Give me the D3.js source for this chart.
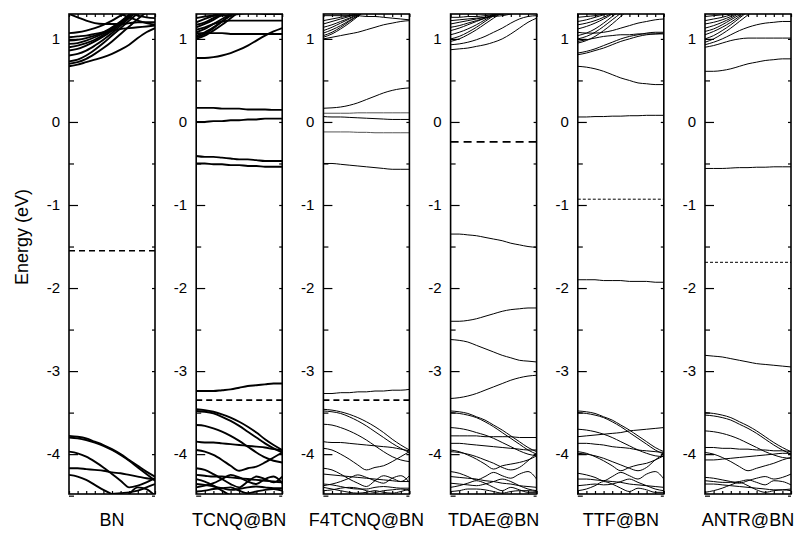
<!DOCTYPE html>
<html><head><meta charset="utf-8">
<script src="https://cdn.jsdelivr.net/npm/d3@7"></script>
<style>body{margin:0;background:#fff}svg{display:block}text{font-family:"Liberation Sans",Arial,sans-serif}</style>
</head><body><svg id="c" width="807" height="533"></svg>
<script>
const panelNames = ["BN","TCNQ@BN","F4TCNQ@BN","TDAE@BN","TTF@BN","ANTR@BN"];
const fermiLevels = [-1.55,-3.35,-3.35,-0.24,-0.93,-1.69];
const yMajorTicks = [-4,-3,-2,-1,0,1];
const yMinorTicks = [-4.5,-3.5,-2.5,-1.5,-0.5,0.5];
const kTicks = [0,1,2,3,4,5,6,7,8,9,10];

const bandsBN = [
 [0.67,0.69,0.72,0.75,0.78,0.82,0.87,0.93,1.01,1.08,1.13],
 [0.70,0.72,0.76,0.82,0.89,0.97,1.06,1.15,1.24,1.32,1.40],
 [0.73,0.75,0.80,0.87,0.95,1.04,1.13,1.22,1.31,1.40,1.48],
 [0.80,0.82,0.86,0.92,0.99,1.07,1.16,1.25,1.34,1.42,1.50],
 [0.86,0.88,0.92,0.97,1.03,1.10,1.18,1.27,1.36,1.45,1.50],
 [0.90,0.92,0.95,0.99,1.05,1.12,1.20,1.29,1.38,1.46,1.50],
 [0.94,0.95,0.98,1.02,1.07,1.13,1.20,1.28,1.36,1.44,1.50],
 [0.98,0.99,1.01,1.04,1.08,1.14,1.21,1.29,1.37,1.45,1.50],
 [1.02,1.03,1.04,1.06,1.08,1.10,1.12,1.13,1.14,1.15,1.16],
 [1.07,1.08,1.10,1.13,1.17,1.22,1.28,1.33,1.38,1.42,1.45],
 [1.30,1.26,1.22,1.19,1.18,1.18,1.18,1.19,1.20,1.20,1.20],
 [1.50,1.50,1.50,1.48,1.42,1.36,1.30,1.26,1.22,1.19,1.17],
 [1.50,1.50,1.50,1.50,1.50,1.45,1.38,1.32,1.28,1.26,1.25],
 [-3.78,-3.79,-3.81,-3.85,-3.89,-3.94,-4.00,-4.07,-4.14,-4.21,-4.27],
 [-3.80,-3.81,-3.83,-3.86,-3.90,-3.95,-4.01,-4.08,-4.16,-4.24,-4.32],
 [-3.97,-3.99,-4.03,-4.09,-4.16,-4.24,-4.32,-4.40,-4.38,-4.34,-4.29],
 [-4.17,-4.17,-4.18,-4.19,-4.20,-4.22,-4.23,-4.25,-4.27,-4.29,-4.30],
 [-4.25,-4.27,-4.31,-4.37,-4.43,-4.48,-4.52,-4.56,-4.60,-4.64,-4.68],
 [-4.70,-4.70,-4.66,-4.60,-4.52,-4.48,-4.47,-4.46,-4.44,-4.40,-4.36],
 [-4.70,-4.70,-4.70,-4.70,-4.70,-4.70,-4.60,-4.48,-4.40,-4.42,-4.50]
];
const bandsTCNQ = [
 [0.77,0.77,0.78,0.80,0.83,0.87,0.92,0.98,1.04,1.09,1.13],
 [1.07,1.07,1.07,1.07,1.06,1.06,1.06,1.06,1.06,1.06,1.06],
 [1.00,1.04,1.10,1.17,1.25,1.33,1.41,1.48,1.50,1.50,1.50],
 [1.02,1.06,1.13,1.21,1.29,1.37,1.45,1.50,1.50,1.50,1.50],
 [1.04,1.08,1.14,1.21,1.28,1.35,1.42,1.50,1.50,1.50,1.50],
 [1.08,1.12,1.18,1.24,1.30,1.36,1.42,1.50,1.50,1.50,1.50],
 [1.11,1.14,1.18,1.21,1.22,1.22,1.22,1.22,1.22,1.22,1.22],
 [1.14,1.18,1.23,1.29,1.35,1.41,1.47,1.50,1.50,1.50,1.50],
 [1.17,1.20,1.25,1.30,1.35,1.40,1.45,1.50,1.50,1.50,1.50],
 [1.20,1.24,1.28,1.32,1.36,1.40,1.45,1.50,1.50,1.50,1.50],
 [1.25,1.27,1.28,1.28,1.29,1.30,1.31,1.31,1.30,1.30,1.30],
 [0.17,0.17,0.17,0.16,0.16,0.16,0.15,0.15,0.15,0.145,0.145],
 [0.00,0.00,0.01,0.01,0.02,0.02,0.03,0.03,0.04,0.04,0.04],
 [-0.41,-0.42,-0.42,-0.43,-0.44,-0.45,-0.45,-0.46,-0.47,-0.47,-0.47],
 [-0.50,-0.50,-0.51,-0.51,-0.52,-0.52,-0.53,-0.53,-0.54,-0.54,-0.54],
 [-3.24,-3.24,-3.24,-3.23,-3.22,-3.20,-3.18,-3.17,-3.16,-3.15,-3.15],
 [-3.46,-3.47,-3.49,-3.52,-3.56,-3.61,-3.67,-3.74,-3.82,-3.89,-3.95],
 [-3.48,-3.49,-3.51,-3.55,-3.60,-3.66,-3.73,-3.80,-3.87,-3.93,-3.98],
 [-3.65,-3.66,-3.69,-3.73,-3.78,-3.84,-3.91,-3.98,-4.04,-4.08,-4.10],
 [-3.85,-3.86,-3.86,-3.87,-3.88,-3.89,-3.90,-3.91,-3.92,-3.94,-3.95],
 [-3.95,-3.97,-4.01,-4.07,-4.14,-4.20,-4.17,-4.15,-4.10,-4.04,-3.98],
 [-4.17,-4.19,-4.24,-4.30,-4.36,-4.40,-4.33,-4.27,-4.30,-4.34,-4.27],
 [-4.25,-4.26,-4.27,-4.27,-4.28,-4.29,-4.30,-4.31,-4.32,-4.33,-4.34],
 [-4.40,-4.38,-4.35,-4.30,-4.25,-4.28,-4.33,-4.36,-4.30,-4.27,-4.35],
 [-4.36,-4.37,-4.39,-4.41,-4.43,-4.42,-4.40,-4.39,-4.40,-4.41,-4.41],
 [-4.45,-4.44,-4.42,-4.41,-4.40,-4.44,-4.47,-4.45,-4.43,-4.42,-4.44],
 [-4.30,-4.33,-4.38,-4.44,-4.50,-4.56,-4.60,-4.60,-4.60,-4.60,-4.60]
];
const bandsF4TCNQ = [
 [1.00,1.02,1.04,1.06,1.08,1.11,1.14,1.17,1.19,1.21,1.22],
 [1.28,1.28,1.28,1.28,1.28,1.27,1.27,1.26,1.25,1.24,1.23],
 [1.02,1.06,1.12,1.19,1.27,1.35,1.43,1.50,1.50,1.50,1.50],
 [1.04,1.08,1.14,1.21,1.28,1.36,1.44,1.50,1.50,1.50,1.50],
 [1.07,1.11,1.16,1.22,1.28,1.34,1.40,1.48,1.50,1.50,1.50],
 [1.10,1.14,1.19,1.24,1.29,1.34,1.40,1.46,1.50,1.50,1.50],
 [1.14,1.17,1.21,1.25,1.30,1.35,1.40,1.45,1.50,1.50,1.50],
 [1.18,1.21,1.24,1.27,1.31,1.35,1.39,1.44,1.50,1.50,1.50],
 [1.22,1.24,1.26,1.28,1.31,1.34,1.38,1.42,1.46,1.50,1.50],
 [0.165,0.17,0.18,0.20,0.23,0.27,0.31,0.35,0.38,0.40,0.41],
 [0.065,0.06,0.06,0.055,0.05,0.045,0.04,0.035,0.03,0.03,0.03],
 [-0.50,-0.50,-0.51,-0.52,-0.53,-0.54,-0.55,-0.56,-0.57,-0.57,-0.57],
 [-3.27,-3.27,-3.26,-3.26,-3.25,-3.25,-3.24,-3.24,-3.23,-3.23,-3.22],
 [-3.46,-3.47,-3.49,-3.52,-3.56,-3.61,-3.67,-3.74,-3.82,-3.89,-3.95],
 [-3.48,-3.49,-3.51,-3.55,-3.60,-3.66,-3.73,-3.80,-3.87,-3.93,-3.98],
 [-3.64,-3.65,-3.68,-3.72,-3.77,-3.83,-3.90,-3.97,-4.03,-4.07,-4.09],
 [-3.85,-3.86,-3.86,-3.87,-3.88,-3.89,-3.90,-3.91,-3.92,-3.94,-3.96],
 [-3.93,-3.95,-4.00,-4.06,-4.13,-4.19,-4.16,-4.14,-4.09,-4.03,-3.97],
 [-4.17,-4.19,-4.24,-4.30,-4.35,-4.39,-4.32,-4.26,-4.29,-4.33,-4.26],
 [-4.24,-4.25,-4.26,-4.27,-4.28,-4.29,-4.30,-4.31,-4.32,-4.33,-4.33],
 [-4.38,-4.36,-4.33,-4.29,-4.25,-4.28,-4.32,-4.35,-4.29,-4.26,-4.34],
 [-4.36,-4.37,-4.39,-4.41,-4.42,-4.42,-4.40,-4.39,-4.40,-4.41,-4.41],
 [-4.44,-4.43,-4.41,-4.40,-4.41,-4.44,-4.46,-4.44,-4.43,-4.42,-4.44],
 [-4.40,-4.42,-4.44,-4.46,-4.47,-4.46,-4.44,-4.46,-4.47,-4.45,-4.42]
];
const bandsF4TCNQgray = [
 [0.105,0.105,0.105,0.105,0.11,0.11,0.11,0.11,0.11,0.11,0.11],
 [-0.12,-0.12,-0.12,-0.12,-0.125,-0.125,-0.13,-0.13,-0.13,-0.13,-0.13]
];
const bandsTDAE = [
 [0.87,0.88,0.89,0.91,0.93,0.96,1.00,1.06,1.13,1.20,1.25],
 [0.93,0.94,0.96,0.99,1.03,1.08,1.13,1.19,1.24,1.27,1.28],
 [0.97,1.00,1.05,1.11,1.18,1.25,1.32,1.40,1.50,1.50,1.50],
 [1.00,1.03,1.08,1.14,1.21,1.28,1.35,1.42,1.50,1.50,1.50],
 [1.05,1.08,1.12,1.17,1.23,1.29,1.35,1.42,1.50,1.50,1.50],
 [1.10,1.13,1.17,1.21,1.25,1.30,1.36,1.42,1.50,1.50,1.50],
 [1.14,1.16,1.19,1.22,1.25,1.28,1.31,1.35,1.40,1.45,1.50],
 [1.18,1.20,1.22,1.24,1.26,1.28,1.30,1.33,1.38,1.44,1.50],
 [1.22,1.23,1.24,1.25,1.26,1.27,1.28,1.30,1.33,1.37,1.42],
 [1.26,1.26,1.27,1.27,1.28,1.29,1.30,1.31,1.33,1.36,1.40],
 [-1.35,-1.35,-1.36,-1.37,-1.39,-1.41,-1.43,-1.46,-1.48,-1.50,-1.51],
 [-2.40,-2.40,-2.39,-2.37,-2.34,-2.31,-2.28,-2.26,-2.25,-2.24,-2.24],
 [-2.62,-2.63,-2.65,-2.69,-2.73,-2.77,-2.81,-2.84,-2.87,-2.88,-2.89],
 [-3.33,-3.32,-3.30,-3.27,-3.23,-3.19,-3.15,-3.11,-3.08,-3.06,-3.05],
 [-3.48,-3.49,-3.51,-3.55,-3.59,-3.65,-3.71,-3.78,-3.85,-3.92,-3.97],
 [-3.50,-3.51,-3.53,-3.56,-3.61,-3.67,-3.74,-3.81,-3.88,-3.95,-4.00],
 [-3.68,-3.69,-3.71,-3.74,-3.77,-3.81,-3.86,-3.91,-3.96,-4.00,-4.02],
 [-3.78,-3.78,-3.78,-3.78,-3.79,-3.79,-3.79,-3.79,-3.80,-3.80,-3.80],
 [-3.87,-3.87,-3.88,-3.89,-3.90,-3.91,-3.92,-3.93,-3.94,-3.95,-3.95],
 [-3.95,-3.97,-4.01,-4.06,-4.12,-4.18,-4.14,-4.12,-4.10,-4.07,-4.02],
 [-3.97,-3.98,-4.00,-4.03,-4.07,-4.11,-4.16,-4.19,-4.16,-4.08,-3.99],
 [-4.21,-4.23,-4.27,-4.31,-4.27,-4.22,-4.26,-4.29,-4.24,-4.21,-4.30],
 [-4.27,-4.28,-4.29,-4.30,-4.32,-4.33,-4.35,-4.36,-4.38,-4.39,-4.40],
 [-4.35,-4.36,-4.37,-4.38,-4.36,-4.33,-4.30,-4.33,-4.38,-4.42,-4.44],
 [-4.40,-4.38,-4.35,-4.32,-4.35,-4.40,-4.44,-4.40,-4.43,-4.46,-4.46],
 [-4.45,-4.44,-4.42,-4.42,-4.43,-4.45,-4.47,-4.45,-4.44,-4.44,-4.45]
];
const bandsTTF = [
 [0.06,0.06,0.065,0.065,0.07,0.07,0.075,0.075,0.08,0.08,0.08],
 [0.67,0.66,0.64,0.61,0.57,0.53,0.50,0.47,0.46,0.45,0.45],
 [0.81,0.83,0.86,0.89,0.93,0.97,1.00,1.03,1.05,1.06,1.07],
 [0.83,0.85,0.88,0.92,0.96,1.00,1.03,1.05,1.07,1.08,1.08],
 [0.97,0.99,1.01,1.03,1.04,1.05,1.05,1.06,1.06,1.06,1.06],
 [1.08,1.07,1.07,1.08,1.10,1.13,1.16,1.19,1.21,1.23,1.24],
 [0.95,0.98,1.03,1.10,1.18,1.27,1.36,1.45,1.50,1.50,1.50],
 [1.00,1.03,1.08,1.15,1.23,1.31,1.40,1.48,1.50,1.50,1.50],
 [1.04,1.07,1.12,1.19,1.27,1.35,1.43,1.50,1.50,1.50,1.50],
 [1.12,1.15,1.19,1.24,1.30,1.37,1.44,1.50,1.50,1.50,1.50],
 [1.17,1.19,1.22,1.26,1.31,1.37,1.43,1.50,1.50,1.50,1.50],
 [1.21,1.23,1.26,1.29,1.33,1.38,1.44,1.50,1.50,1.50,1.50],
 [1.26,1.27,1.28,1.30,1.33,1.37,1.42,1.48,1.50,1.50,1.50],
 [-1.90,-1.90,-1.90,-1.91,-1.91,-1.91,-1.92,-1.92,-1.92,-1.93,-1.93],
 [-3.48,-3.49,-3.51,-3.55,-3.59,-3.65,-3.71,-3.78,-3.85,-3.92,-3.97],
 [-3.50,-3.51,-3.53,-3.56,-3.61,-3.67,-3.74,-3.81,-3.88,-3.95,-4.00],
 [-3.70,-3.71,-3.73,-3.76,-3.80,-3.85,-3.90,-3.95,-3.99,-4.02,-4.03],
 [-3.79,-3.78,-3.77,-3.76,-3.75,-3.74,-3.72,-3.71,-3.70,-3.69,-3.68],
 [-3.87,-3.87,-3.88,-3.89,-3.91,-3.92,-3.93,-3.95,-3.96,-3.97,-3.98],
 [-3.97,-3.99,-4.03,-4.08,-4.14,-4.20,-4.16,-4.13,-4.11,-4.07,-4.02],
 [-3.99,-4.00,-4.02,-4.05,-4.09,-4.13,-4.17,-4.20,-4.16,-4.07,-4.00],
 [-4.23,-4.25,-4.28,-4.32,-4.27,-4.22,-4.26,-4.30,-4.24,-4.21,-4.30],
 [-4.30,-4.30,-4.31,-4.32,-4.33,-4.34,-4.36,-4.37,-4.38,-4.39,-4.40],
 [-4.38,-4.37,-4.36,-4.37,-4.36,-4.33,-4.30,-4.34,-4.38,-4.42,-4.44],
 [-4.44,-4.42,-4.38,-4.33,-4.36,-4.41,-4.45,-4.41,-4.43,-4.46,-4.46]
];
const bandsANTR = [
 [0.61,0.61,0.62,0.64,0.67,0.70,0.72,0.74,0.75,0.76,0.76],
 [0.90,0.92,0.95,0.98,1.00,1.01,1.01,1.01,1.01,1.01,1.01],
 [0.93,0.96,1.00,1.05,1.10,1.14,1.17,1.19,1.20,1.21,1.21],
 [0.96,1.00,1.06,1.13,1.21,1.29,1.37,1.45,1.50,1.50,1.50],
 [1.00,1.04,1.10,1.17,1.25,1.33,1.41,1.50,1.50,1.50,1.50],
 [1.05,1.09,1.14,1.20,1.27,1.34,1.42,1.50,1.50,1.50,1.50],
 [1.09,1.12,1.17,1.23,1.29,1.36,1.43,1.50,1.50,1.50,1.50],
 [1.13,1.16,1.20,1.25,1.31,1.37,1.44,1.50,1.50,1.50,1.50],
 [1.18,1.20,1.23,1.27,1.32,1.38,1.44,1.50,1.50,1.50,1.50],
 [1.22,1.24,1.26,1.29,1.33,1.38,1.44,1.50,1.50,1.50,1.50],
 [1.27,1.28,1.29,1.30,1.32,1.36,1.41,1.47,1.50,1.50,1.50],
 [-0.56,-0.56,-0.56,-0.555,-0.55,-0.55,-0.545,-0.545,-0.54,-0.54,-0.54],
 [-2.81,-2.82,-2.83,-2.85,-2.87,-2.89,-2.91,-2.92,-2.93,-2.94,-2.95],
 [-3.50,-3.51,-3.53,-3.56,-3.61,-3.66,-3.72,-3.79,-3.86,-3.92,-3.97],
 [-3.53,-3.54,-3.56,-3.59,-3.64,-3.69,-3.75,-3.82,-3.89,-3.95,-4.00],
 [-3.72,-3.73,-3.75,-3.78,-3.82,-3.87,-3.92,-3.97,-4.01,-4.04,-4.05],
 [-3.92,-3.92,-3.93,-3.93,-3.94,-3.94,-3.95,-3.95,-3.96,-3.96,-3.97],
 [-3.98,-4.00,-4.04,-4.09,-4.15,-4.20,-4.17,-4.14,-4.11,-4.07,-4.04],
 [-4.07,-4.07,-4.06,-4.05,-4.04,-4.03,-4.02,-4.01,-4.00,-3.99,-3.99],
 [-4.28,-4.29,-4.31,-4.33,-4.35,-4.32,-4.29,-4.27,-4.30,-4.28,-4.24],
 [-4.32,-4.33,-4.34,-4.34,-4.33,-4.31,-4.34,-4.37,-4.32,-4.33,-4.37],
 [-4.36,-4.36,-4.37,-4.38,-4.39,-4.40,-4.41,-4.42,-4.43,-4.43,-4.44],
 [-4.46,-4.44,-4.41,-4.37,-4.34,-4.38,-4.43,-4.46,-4.44,-4.43,-4.42]
];
const panelBands = [bandsBN,bandsTCNQ,bandsF4TCNQ,bandsTDAE,bandsTTF,bandsANTR];
const panelGray = [[],[],bandsF4TCNQgray,[],[],[]];

const svg = d3.select("#c");
const y = d3.scaleLinear().domain([-4.48,1.30]).range([494,14]);
const panelLeft = d3.scaleLinear().domain([0,5]).range([69,705]);
const panelW = 86;
const lineW = [1.9,1.9,1.0,1.0,1.0,1.0];
const dashSpec = [["6,4",1.5],["6,4",1.6],["6,4",1.6],["8,5",1.8],["3,2",1.0],["3,2",1.0]];

panelNames.forEach((name,i)=>{
  const x0 = panelLeft(i);
  const x = d3.scaleLinear().domain([0,10]).range([x0,x0+panelW]);
  const g = svg.append("g");
  const cid = "clip"+i;
  svg.append("clipPath").attr("id",cid).append("rect")
     .attr("x",x0).attr("y",y(1.30)).attr("width",panelW).attr("height",y(-4.48)-y(1.30));
  const line = d3.line().x((d,j)=>x(j)).y(d=>y(d)).curve(d3.curveMonotoneX);
  const lg = g.append("g").attr("clip-path",`url(#${cid})`);
  lg.selectAll("path.band").data(panelBands[i]).join("path").attr("class","band")
    .attr("d",line).attr("fill","none").attr("stroke","#000").attr("stroke-width",lineW[i]);
  lg.selectAll("path.gband").data(panelGray[i]).join("path").attr("class","gband")
    .attr("d",line).attr("fill","none").attr("stroke","#555").attr("stroke-width",lineW[i]);
  lg.append("line").attr("x1",x(0)).attr("x2",x(10)).attr("y1",y(fermiLevels[i])).attr("y2",y(fermiLevels[i]))
    .attr("stroke","#000").attr("stroke-width",dashSpec[i][1]).attr("stroke-dasharray",dashSpec[i][0]);

  const ax = (a)=>{a.select(".domain").remove(); a.selectAll("line").attr("stroke","#000").attr("stroke-width",1.2);};
  g.append("g").attr("transform",`translate(${x0},0)`)
    .call(d3.axisLeft(y).tickValues(yMajorTicks).tickSize(-9).tickPadding(9).tickFormat(d=>String(d)))
    .call(ax).selectAll("text").attr("font-size",15).attr("fill","#000").attr("font-family","Liberation Sans, Arial, sans-serif");
  g.append("g").attr("transform",`translate(${x0},0)`)
    .call(d3.axisLeft(y).tickValues(yMinorTicks).tickSize(-5).tickFormat(""))
    .call(ax);
  g.append("g").attr("transform",`translate(${x0+panelW},0)`)
    .call(d3.axisRight(y).tickValues(yMajorTicks.concat(yMinorTicks)).tickSize(-3).tickFormat(""))
    .call(ax);
  g.append("g").attr("transform",`translate(0,${y(1.30)})`)
    .call(d3.axisTop(x).tickValues(kTicks).tickSize(-3).tickFormat(""))
    .call(ax);
  g.append("g").attr("transform",`translate(0,${y(-4.48)})`)
    .call(d3.axisBottom(x).tickValues(kTicks).tickSize(-3).tickFormat(""))
    .call(ax);
  g.append("rect").attr("x",x0).attr("y",y(1.30)).attr("width",panelW).attr("height",y(-4.48)-y(1.30))
    .attr("fill","none").attr("stroke","#000").attr("stroke-width",1.6);
  svg.append("text").attr("x",x0+panelW/2).attr("y",526).attr("text-anchor","middle")
    .attr("font-size",18).attr("fill","#000").text(name);
});

svg.append("text").attr("transform","translate(28,237) rotate(-90)").attr("text-anchor","middle")
  .attr("font-size",18).attr("fill","#000").text("Energy (eV)");
</script></body></html>
